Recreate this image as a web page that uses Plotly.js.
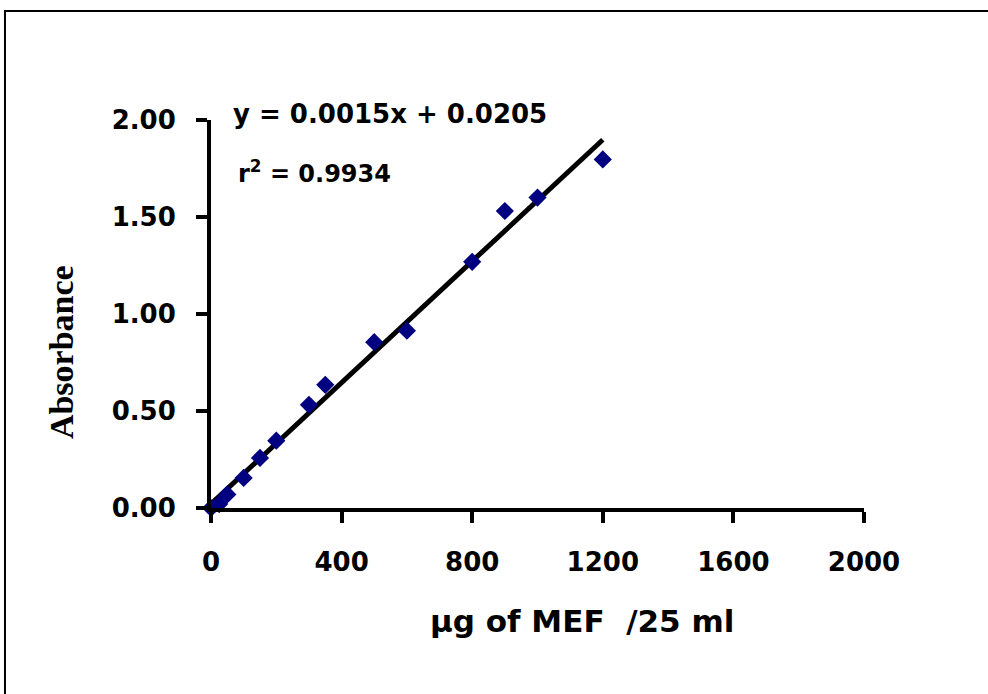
<!DOCTYPE html>
<html>
<head>
<meta charset="utf-8">
<script src="https://cdn.plot.ly/plotly-3.0.1.min.js"></script>
<style>
  html, body { margin: 0; padding: 0; background: #ffffff; }
  #chart { width: 988px; height: 694px; }
</style>
</head>
<body>
<div id="chart"></div>
<script>
// Measured data: µg of MEF per 25 ml vs absorbance
const concentration = [0, 25, 50, 100, 150, 200, 300, 350, 500, 600, 800, 900, 1000, 1200];
const absorbance    = [0.00, 0.02, 0.07, 0.155, 0.258, 0.347, 0.532, 0.635, 0.855, 0.914, 1.269, 1.531, 1.600, 1.797];

// Linear trendline end points (as drawn in the figure)
const trendX = [0, 1200];
const trendY = [0.0205, 1.898];

const xTickVals = [0, 400, 800, 1200, 1600, 2000];
const yTickVals = [0, 0.5, 1.0, 1.5, 2.0];

const equationText = 'y = 0.0015x + 0.0205';
const r2Text = 'r<sup>2</sup> = 0.9934';
const xTitle = 'µg of MEF  /25 ml';
const yTitle = 'Absorbance';

const sansBold = 'DejaVu Sans, Liberation Sans, Arial, sans-serif';

const traces = [
  {
    x: trendX, y: trendY,
    type: 'scatter', mode: 'lines',
    line: { color: '#000000', width: 5 },
    hoverinfo: 'skip', showlegend: false, cliponaxis: false
  },
  {
    x: concentration, y: absorbance,
    type: 'scatter', mode: 'markers',
    marker: { symbol: 'diamond', size: 14, color: '#000080', line: { width: 0 } },
    showlegend: false, cliponaxis: false
  }
];

const layout = {
  width: 988, height: 694,
  paper_bgcolor: '#ffffff', plot_bgcolor: '#ffffff',
  margin: { l: 211, r: 124, t: 120, b: 186, pad: 0 },
  showlegend: false,
  font: { family: sansBold, color: '#000000', size: 26, weight: 'bold' },
  xaxis: {
    range: [0, 2000], tickvals: xTickVals,
    showgrid: false, zeroline: false,
    showline: true, linecolor: '#000000', linewidth: 4,
    ticks: 'outside', ticklen: 11, tickwidth: 4, tickcolor: '#000000',
    ticklabelstandoff: 17,
    tickfont: { family: sansBold, size: 26, color: '#000000', weight: 'bold' }
  },
  yaxis: {
    range: [0, 2], tickvals: yTickVals, tickformat: '.2f',
    showgrid: false, zeroline: false,
    showline: true, linecolor: '#000000', linewidth: 4,
    ticks: 'outside', ticklen: 11, tickwidth: 4, tickcolor: '#000000',
    ticklabelstandoff: 15,
    tickfont: { family: sansBold, size: 26, color: '#000000', weight: 'bold' }
  },
  annotations: [
    {
      xref: 'paper', yref: 'paper', x: 0.0305, y: 1.0155,
      xanchor: 'left', yanchor: 'middle', showarrow: false,
      text: equationText,
      font: { family: sansBold, size: 26, color: '#000000', weight: 'bold' }
    },
    {
      xref: 'paper', yref: 'paper', x: 0.039, y: 0.866,
      xanchor: 'left', yanchor: 'middle', showarrow: false,
      text: r2Text,
      font: { family: sansBold, size: 24, color: '#000000', weight: 'bold' }
    },
    {
      xref: 'paper', yref: 'paper', x: 0.568, y: -0.29,
      xanchor: 'center', yanchor: 'middle', showarrow: false,
      text: xTitle,
      font: { family: sansBold, size: 31, color: '#000000', weight: 'bold' }
    },
    {
      xref: 'paper', yref: 'paper', x: -0.229, y: 0.403,
      xanchor: 'center', yanchor: 'middle', showarrow: false, textangle: -90,
      text: yTitle,
      font: { family: 'Liberation Serif, Times New Roman, serif', size: 34, color: '#000000', weight: 'bold' }
    }
  ],
  shapes: [
    {
      type: 'path', xref: 'paper', yref: 'paper',
      path: 'M -0.3155,-0.5 L -0.3155,1.281 L 1.2,1.281',
      line: { color: '#000000', width: 2 }
    }
  ]
};

Plotly.newPlot('chart', traces, layout, { displayModeBar: false, staticPlot: true });
</script>
</body>
</html>
